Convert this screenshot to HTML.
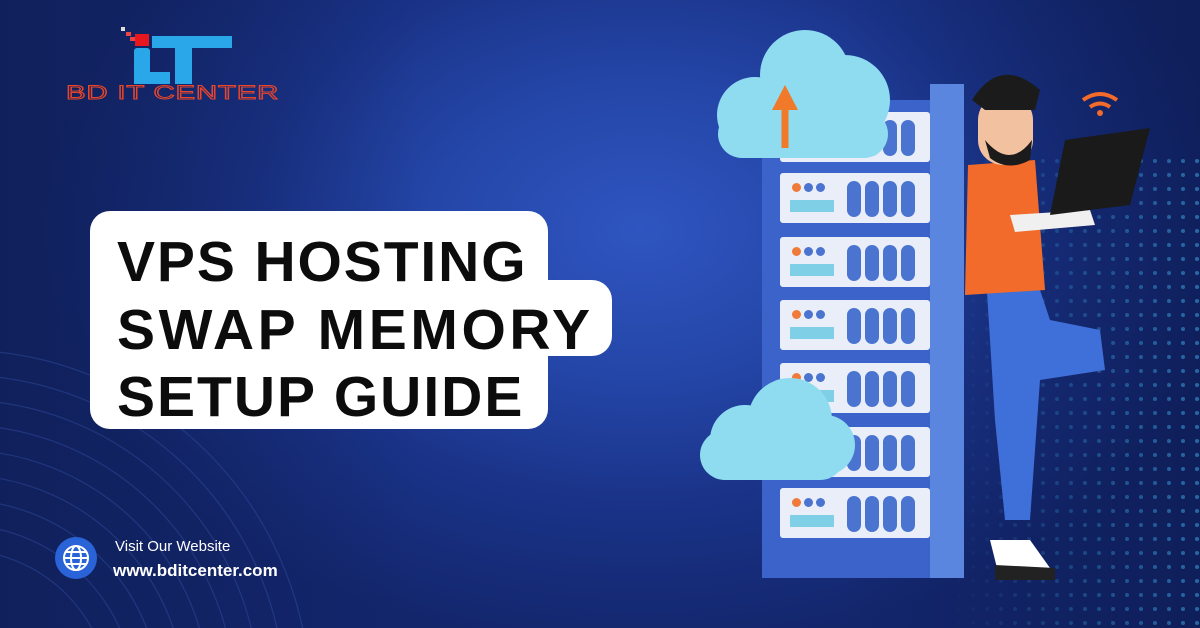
<!DOCTYPE html>
<html><head><meta charset="utf-8"><style>
html,body{margin:0;padding:0;overflow:hidden;width:1200px;height:628px}
body{position:relative;font-family:"Liberation Sans",sans-serif;
background:radial-gradient(ellipse 600px 420px at 640px 230px,#2f55c0 0%,#2446a8 35%,#1a3388 65%,#13266c 100%);}
.bg2{position:absolute;left:0;top:0;width:1200px;height:628px;background:linear-gradient(90deg,rgba(14,28,80,.55) 0%,rgba(14,28,80,0) 35%,rgba(14,28,80,0) 70%,rgba(10,22,70,.45) 100%);}
.box{position:absolute;background:#fff;}
.t{position:absolute;left:117px;font-weight:bold;font-size:57px;color:#0c0c0c;line-height:1;white-space:nowrap}
svg{position:absolute;left:0;top:0}
</style></head><body>
<div class="bg2"></div>
<svg width="1200" height="628">
 <defs>
  <pattern id="dp" width="14" height="14" patternUnits="userSpaceOnUse"><circle cx="7" cy="7" r="2" fill="#3fb6f0"/></pattern>
  <linearGradient id="fade" x1="0" x2="1"><stop offset="0" stop-color="#fff" stop-opacity="0"/><stop offset=".5" stop-color="#fff" stop-opacity=".35"/><stop offset="1" stop-color="#fff" stop-opacity=".7"/></linearGradient>
  <mask id="m"><rect x="950" y="150" width="250" height="478" fill="url(#fade)"/></mask>
 </defs>
 <rect x="950" y="150" width="250" height="478" fill="url(#dp)" mask="url(#m)" opacity=".7"/>
 <g fill="none" stroke="#3d5fb8" stroke-opacity=".35" stroke-width="1.2">
  <circle cx="-40" cy="700" r="150"/><circle cx="-40" cy="700" r="175"/><circle cx="-40" cy="700" r="200"/>
  <circle cx="-40" cy="700" r="225"/><circle cx="-40" cy="700" r="250"/><circle cx="-40" cy="700" r="275"/>
  <circle cx="-40" cy="700" r="300"/><circle cx="-40" cy="700" r="325"/><circle cx="-40" cy="700" r="350"/>
 </g>
 <rect x="121" y="27" width="4" height="4" fill="#ddd"/><rect x="126" y="32" width="5" height="4" fill="#e44"/>
 <rect x="130" y="37" width="5" height="4" fill="#e44"/><rect x="135" y="34" width="14" height="12" fill="#e8171d"/>
 <rect x="134" y="48" width="16" height="36" rx="3" fill="#29a7e8"/><rect x="134" y="72" width="36" height="12" fill="#29a7e8"/>
 <rect x="152" y="36" width="80" height="12" fill="#29a7e8"/><rect x="175" y="36" width="17" height="48" fill="#29a7e8"/>
 <text x="66" y="99" font-size="19" fill="none" stroke="#e8452a" stroke-width="1" font-family="Liberation Sans" transform="translate(66 0) scale(1.55 1) translate(-66 0)" letter-spacing="0.5">BD IT CENTER</text>
 <rect x="762" y="100" width="180" height="478" fill="#3b63c9"/>
 <rect x="930" y="84" width="34" height="494" fill="#5a86e0"/>
 <path d="M985 260 L1030 260 L1050 320 L1100 330 L1105 370 L1040 380 L1030 520 L1005 520 L995 420 Z" fill="#3f6fd8"/>
 <path d="M990 540 L1030 540 L1055 575 L1000 580 Z" fill="#fff"/><path d="M995 565 L1055 568 L1055 580 L995 580Z" fill="#222"/>
 <path d="M968 165 L1035 160 L1045 290 L965 295 Z" fill="#f26b2a"/>
 <path d="M1010 215 L1090 210 L1095 225 L1015 232 Z" fill="#f0f0f0"/>
 <rect x="978" y="95" width="55" height="70" rx="25" fill="#f2c1a0"/>
 <path d="M972 100 Q1000 55 1040 90 L1035 110 L985 110 Z" fill="#1b1b1b"/>
 <path d="M985 140 Q1010 170 1032 140 L1030 160 Q1008 172 990 158Z" fill="#1b1b1b"/>
 <path d="M1065 140 L1150 128 L1130 205 L1050 215 Z" fill="#1a1a1a"/>
 <path d="M1083 100 Q1100 88 1117 100" stroke="#f26b2a" stroke-width="4" fill="none"/>
 <path d="M1090 107 Q1100 100 1110 107" stroke="#f26b2a" stroke-width="4" fill="none"/>
 <circle cx="1100" cy="113" r="3" fill="#f26b2a"/>
 <circle cx="76" cy="558" r="21" fill="#2a63d8"/>
 <g fill="none" stroke="#fff" stroke-width="2"><circle cx="76" cy="558" r="12"/><ellipse cx="76" cy="558" rx="5" ry="12"/><line x1="64" y1="558" x2="88" y2="558"/><line x1="66" y1="552" x2="86" y2="552"/><line x1="66" y1="564" x2="86" y2="564"/></g>
 <text x="115" y="551" font-size="15" fill="#fff">Visit Our Website</text>
 <text x="113" y="576" font-size="17" font-weight="bold" fill="#fff">www.bditcenter.com</text>
</svg>
<div id="rack"></div>
<svg width="1200" height="628">
 <g fill="#8fdcf0">
  <circle cx="805" cy="75" r="45"/><circle cx="845" cy="100" r="45"/><circle cx="755" cy="115" r="38"/>
  <rect x="718" y="110" width="170" height="48" rx="24"/>
 </g>
 <path d="M785 148 V105" stroke="#f07a2a" stroke-width="7"/><path d="M772 110 L785 85 L798 110 Z" fill="#f07a2a"/>
 <g fill="#8fdcf0">
  <circle cx="790" cy="420" r="42"/><circle cx="745" cy="440" r="35"/><circle cx="825" cy="445" r="30"/>
  <rect x="700" y="430" width="145" height="50" rx="25"/>
 </g>
</svg>
<div class="box" style="left:90px;top:211px;width:458px;height:218px;border-radius:20px"></div>
<div class="box" style="left:500px;top:280px;width:112px;height:76px;border-radius:20px"></div>
<div class="t" style="top:234px;letter-spacing:1.9px">VPS HOSTING</div>
<div class="t" style="top:302px;letter-spacing:3.6px">SWAP MEMORY</div>
<div class="t" style="top:369px;letter-spacing:2px">SETUP GUIDE</div>
<script>
var r=document.getElementById('rack'),h='';
[112,173,237,300,363,427,488].forEach(function(y){
h+='<div style="position:absolute;left:780px;top:'+y+'px;width:150px;height:50px;background:#e9eef8;border-radius:3px"></div>';
h+='<div style="position:absolute;left:790px;top:'+(y+27)+'px;width:44px;height:12px;background:#7fd0e6"></div>';
['#f07a3a','#4a74d0','#4a74d0'].forEach(function(c,i){h+='<div style="position:absolute;left:'+(792+i*12)+'px;top:'+(y+10)+'px;width:9px;height:9px;border-radius:50%;background:'+c+'"></div>';});
for(var i=0;i<4;i++)h+='<div style="position:absolute;left:'+(847+i*18)+'px;top:'+(y+8)+'px;width:14px;height:36px;border-radius:7px;background:#4a74d0"></div>';
});
r.innerHTML=h;
</script>
</body></html>
